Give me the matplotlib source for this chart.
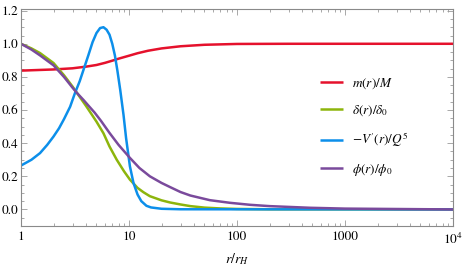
import matplotlib
matplotlib.use("Agg")
import matplotlib.pyplot as plt
import matplotlib.ticker as mticker
import numpy as np

# ---- data ----
r_mass = [1, 2, 3, 4, 5, 6, 7, 8, 10, 12, 15, 20, 30, 50, 100, 300, 1e4]
mass = [0.838, 0.845, 0.852, 0.862, 0.872, 0.885, 0.898, 0.91, 0.928, 0.943,
        0.958, 0.972, 0.985, 0.994, 0.999, 1.0, 1.0]

r_delta = [1, 1.25, 1.5, 2, 2.5, 3, 3.3, 4, 4.5, 5, 5.8, 6.6, 7.7, 9, 10.2, 12,
           13.6, 15.6, 20, 24, 30, 37, 50, 70, 100, 200, 1e4]
delta = [1.0, 0.972, 0.944, 0.884, 0.81, 0.742, 0.703, 0.625, 0.575, 0.53, 0.46,
         0.38, 0.30, 0.23, 0.18, 0.13, 0.104, 0.08, 0.055, 0.042, 0.03, 0.02,
         0.011, 0.006, 0.003, 0.001, 0.0]

r_pot = [1, 1.25, 1.5, 1.75, 2, 2.25, 2.5, 2.85, 3.15, 3.5, 3.8, 4.2, 4.6, 5,
         5.4, 5.8, 6.2, 6.6, 7, 7.4, 7.8, 8.3, 8.9, 9.4, 10.2, 11, 12, 13, 14.5,
         16, 20, 30, 1e4]
pot = [0.265, 0.30, 0.34, 0.39, 0.44, 0.49, 0.545, 0.62, 0.70, 0.775, 0.845,
       0.93, 1.01, 1.065, 1.095, 1.10, 1.085, 1.055, 1.0, 0.93, 0.84, 0.72,
       0.57, 0.43, 0.26, 0.16, 0.09, 0.05, 0.022, 0.012, 0.004, 0.001, 0.0]

r_phi = [1, 1.25, 1.5, 2, 2.5, 3, 3.3, 3.8, 4.3, 4.8, 5.5, 6.6, 8, 10.2, 12.5,
         15.6, 20, 24, 30, 37, 56, 86, 132, 200, 475, 1000, 1e4]
phi = [1.0, 0.965, 0.93, 0.87, 0.80, 0.735, 0.703, 0.66, 0.62, 0.585, 0.535,
       0.462, 0.39, 0.311, 0.25, 0.2, 0.16, 0.135, 0.105, 0.084, 0.056, 0.04,
       0.028, 0.02, 0.01, 0.005, 0.0]

labels = [r"$m(r)/M$", r"$\delta(r)/\delta_0$", r"$-V'(r)/Q^5$", r"$\phi(r)/\phi_0$"]
colors = ["#E5112C", "#8DB50C", "#0C8FEA", "#7A4A9C"]

plt.rcParams.update({
    "font.family": "STIXGeneral",
    "mathtext.fontset": "stix",
    "font.size": 9.5,
})

fig = plt.figure(figsize=(4.63, 2.73), dpi=100)
ax = fig.add_axes([21 / 463, (273 - 226) / 273, 432 / 463, 217 / 273])

series = [(r_mass, mass), (r_delta, delta), (r_pot, pot), (r_phi, phi)]
for (xs, ys), lab, col in zip(series, labels, colors):
    ax.plot(xs, ys, color=col, lw=1.8, label=lab, solid_capstyle="butt")

ax.set_xscale("log")
ax.set_xlim(1, 1e4)
ax.set_ylim(-0.1, 1.21)

ax.xaxis.set_major_locator(mticker.FixedLocator([1, 10, 100, 1000, 1e4]))
ax.xaxis.set_major_formatter(mticker.FixedFormatter(["1", "10", "100", "1000", r"$10^4$"]))
ax.xaxis.set_minor_locator(mticker.LogLocator(base=10, subs=np.arange(2, 10)))
ax.xaxis.set_minor_formatter(mticker.NullFormatter())

ax.yaxis.set_major_locator(mticker.MultipleLocator(0.2))
ax.yaxis.set_major_formatter(mticker.FormatStrFormatter("%.1f"))
ax.yaxis.set_minor_locator(mticker.MultipleLocator(0.05))

for s in ax.spines.values():
    s.set_color("#8a8a8a")
    s.set_linewidth(0.8)

ax.tick_params(which="both", direction="in", top=True, right=True,
               color="#9a9a9a", width=0.6)
ax.tick_params(which="major", length=4)
ax.tick_params(which="minor", length=2.3)
ax.tick_params(axis="x", which="major", pad=4)
ax.tick_params(axis="y", which="major", pad=2)

ax.set_xlabel(r"$r/r_H$", fontsize=10, labelpad=3)

ax.legend(loc="upper left", bbox_to_anchor=(0.692, 0.69), frameon=False,
          handlelength=1.75, handletextpad=0.68, labelspacing=0.95,
          borderaxespad=0, borderpad=0, fontsize=9.5)

fig.savefig("out.png", dpi=100)
